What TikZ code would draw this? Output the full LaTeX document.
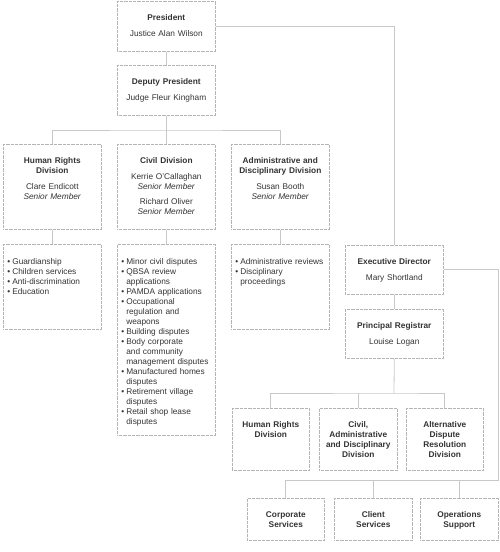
\documentclass[tikz,border=0pt]{standalone}
\usepackage{fontspec}
\setmainfont{Liberation Sans}
\usetikzlibrary{
		calc,
		positioning
	}
\definecolor{textgray}{HTML}{333333}
\definecolor{linegray}{HTML}{C8C8C8}
\definecolor{bordergray}{HTML}{B4B4B4}
\newcommand\orgbul{\makebox[5pt][l]{\textbullet}}
\newcommand\orgind{\hspace*{5pt}}
\tikzset{
		>=stealth,
		orgbox/.code 2 args={%
			\pgfmathsetmacro\orgw{#1-6}%
			\pgfmathsetmacro\orgd{#2-19}%
			\pgfkeysalso{draw=bordergray, dash pattern=on 0.6pt off 0.7pt, line width=0.6pt,
				anchor=north west, inner xsep=3pt, inner ysep=0pt, align=center,
				text=textgray, font=\fontsize{8.3}{10}\selectfont,
				text height=19pt, text width=\orgw pt, text depth=\orgd pt}},
		listbox/.code 2 args={%
			\pgfmathsetmacro\orgw{#1-8}%
			\pgfmathsetmacro\orgd{#2-20}%
			\pgfkeysalso{draw=bordergray, dash pattern=on 0.6pt off 0.7pt, line width=0.6pt,
				anchor=north west, inner xsep=4pt, inner ysep=0pt, align=left,
				text=textgray, font=\fontsize{8.3}{10}\selectfont,
				text height=20pt, text width=\orgw pt, text depth=\orgd pt}},
		link/.style={draw=linegray, line width=0.8pt}
	}

\begin{document}
\begin{tikzpicture}[x=1pt, y=-1pt]
            \useasboundingbox (0,0) rectangle (500,552);

            \node[orgbox={98}{50}] (pres) at (117,1) {\textbf{President}\\[6pt]Justice Alan Wilson};
            \node[orgbox={98}{50}] (dep) at (117,65) {\textbf{Deputy President}\\[6pt]Judge Fleur Kingham};

            \node[orgbox={98}{85}] (hrdiv) at (3,144) {\textbf{Human Rights}\\\textbf{Division}\\[6pt]Clare Endicott\\\textit{Senior Member}};
            \node[orgbox={98}{85}] (civdiv) at (117,144) {\textbf{Civil Division}\\[6pt]Kerrie O’Callaghan\\\textit{Senior Member}\\[5pt]Richard Oliver\\\textit{Senior Member}};
            \node[orgbox={98}{85}] (admdiv) at (231,144) {\textbf{Administrative and}\\\textbf{Disciplinary Division}\\[6pt]Susan Booth\\\textit{Senior Member}};

            \node[listbox={98}{85}] (hrlist) at (3,244) {\orgbul Guardianship\\\orgbul Children services\\\orgbul Anti-discrimination\\\orgbul Education};
            \node[listbox={98}{191}] (civlist) at (117,244) {\orgbul Minor civil disputes\\\orgbul QBSA review\\\orgind applications\\\orgbul PAMDA applications\\\orgbul Occupational\\\orgind regulation and\\\orgind weapons\\\orgbul Building disputes\\\orgbul Body corporate\\\orgind and community\\\orgind management disputes\\\orgbul Manufactured homes\\\orgind disputes\\\orgbul Retirement village\\\orgind disputes\\\orgbul Retail shop lease\\\orgind disputes};
            \node[listbox={98}{85}] (admlist) at (231,244) {\orgbul Administrative reviews\\\orgbul Disciplinary\\\orgind proceedings};

            \node[orgbox={98}{49}] (execdir) at (345,245) {\textbf{Executive Director}\\[6pt]Mary Shortland};
            \node[orgbox={98}{49}] (registrar) at (345,309) {\textbf{Principal Registrar}\\[6pt]Louise Logan};

            \node[orgbox={77}{62}] (hrreg) at (232,408) {\textbf{Human Rights}\\\textbf{Division}};
            \node[orgbox={78}{62}] (cadreg) at (319,408) {\textbf{Civil,}\\\textbf{Administrative}\\\textbf{and Disciplinary}\\\textbf{Division}};
            \node[orgbox={77}{62}] (adrreg) at (406,408) {\textbf{Alternative}\\\textbf{Dispute}\\\textbf{Resolution}\\\textbf{Division}};

            \node[orgbox={77}{42}] (corp) at (247,498) {\textbf{Corporate}\\\textbf{Services}};
            \node[orgbox={78}{42}] (client) at (334,498) {\textbf{Client}\\\textbf{Services}};
            \node[orgbox={78}{42}] (ops) at (420,498) {\textbf{Operations}\\\textbf{Support}};

            \coordinate (divbar) at (166,130);
            \coordinate (regbar) at (394,393);
            \coordinate (supbar) at (498,480);

            \draw[link] (pres) -- (dep);
            \draw[link] (dep) -- (civdiv);
            \draw[link] (hrdiv.north) |- (divbar) -| (admdiv.north);
            \draw[link] (hrdiv) -- (hrlist);
            \draw[link] (civdiv) -- (civlist);
            \draw[link] (admdiv) -- (admlist);

            \draw[link] (pres.east) -| (execdir.north);
            \draw[link] (execdir) -- (registrar);
            \draw[link] (registrar.south) -- (regbar);
            \draw[link] (hrreg.north) |- (regbar) -| (adrreg.north);
            \draw[link] (cadreg.north) -- (cadreg.north |- regbar);

            \draw[link] (execdir.east) -| (supbar) -| (corp.north);
            \draw[link] (client.north) -- (client.north |- supbar);
            \draw[link] (ops.north) -- (ops.north |- supbar);

        \end{tikzpicture}
\end{document}
